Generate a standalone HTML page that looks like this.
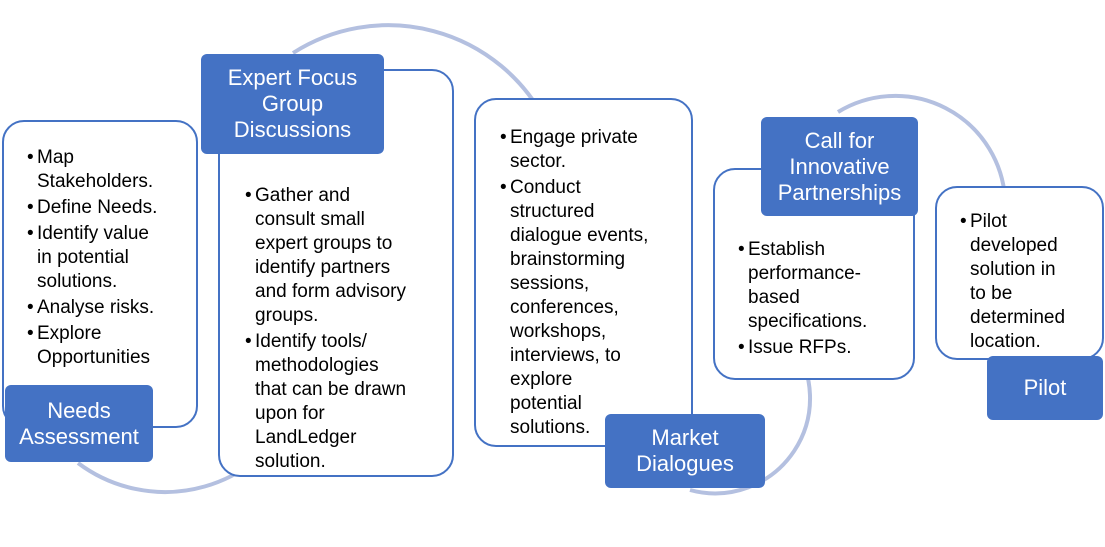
<!DOCTYPE html>
<html><head><style>
body{margin:0;width:1105px;height:547px;background:#fff;position:relative;overflow:hidden;font-family:"Liberation Sans",sans-serif}
.b{position:absolute;background:#fff;border:2px solid #4472c4;border-radius:22px;box-sizing:border-box}
.l{position:absolute;background:#4472c4;color:#fff;border-radius:6px;display:flex;align-items:center;justify-content:center;text-align:center;font-size:22px;line-height:26px;box-sizing:border-box;white-space:nowrap}
ul{position:absolute;margin:0;padding:0;list-style:none;font-size:19px;line-height:24px;color:#000;white-space:nowrap}
li{padding-left:10px;text-indent:-10px;margin-bottom:2px}
li:before{content:"•";display:inline-block;width:10px;text-indent:0}
svg{position:absolute;left:0;top:0}
</style></head><body>
<svg width="1105" height="547">
<g fill="none" stroke="#b4c0e0" stroke-width="4">
<path d="M78 463 A145 145 0 0 0 300 400"/>
<path d="M293 53 A177 177 0 0 1 545 120"/>
<path d="M838 112 A110 110 0 0 1 1005 198"/>
<path d="M790 340 A95 95 0 0 1 690 490"/>
</g>
<path d="M998 196 L1012 196 L1005 208Z" fill="#b4c0e0"/>
</svg>
<div class="b" style="left:2px;top:120px;width:196px;height:308px"></div>
<ul style="left:27px;top:146px"><li>Map<br>Stakeholders.</li><li>Define Needs.</li><li>Identify value<br>in potential<br>solutions.</li><li>Analyse risks.</li><li>Explore<br>Opportunities</li></ul>
<div class="l" style="left:5px;top:385px;width:148px;height:77px">Needs<br>Assessment</div>

<div class="b" style="left:218px;top:69px;width:236px;height:408px"></div>
<ul style="left:245px;top:184px"><li>Gather and<br>consult small<br>expert groups to<br>identify partners<br>and form advisory<br>groups.</li><li>Identify tools/<br>methodologies<br>that can be drawn<br>upon for<br>LandLedger<br>solution.</li></ul>
<div class="l" style="left:201px;top:54px;width:183px;height:100px">Expert Focus<br>Group<br>Discussions</div>

<div class="b" style="left:474px;top:98px;width:219px;height:349px"></div>
<ul style="left:500px;top:126px"><li>Engage private<br>sector.</li><li>Conduct<br>structured<br>dialogue events,<br>brainstorming<br>sessions,<br>conferences,<br>workshops,<br>interviews, to<br>explore<br>potential<br>solutions.</li></ul>
<div class="l" style="left:605px;top:414px;width:160px;height:74px">Market<br>Dialogues</div>

<div class="b" style="left:713px;top:168px;width:202px;height:212px"></div>
<ul style="left:738px;top:238px"><li>Establish<br>performance-<br>based<br>specifications.</li><li>Issue RFPs.</li></ul>
<div class="l" style="left:761px;top:117px;width:157px;height:99px">Call for<br>Innovative<br>Partnerships</div>

<div class="b" style="left:935px;top:186px;width:169px;height:174px"></div>
<ul style="left:960px;top:210px"><li>Pilot<br>developed<br>solution in<br>to be<br>determined<br>location.</li></ul>
<div class="l" style="left:987px;top:356px;width:116px;height:64px">Pilot</div>
</body></html>
